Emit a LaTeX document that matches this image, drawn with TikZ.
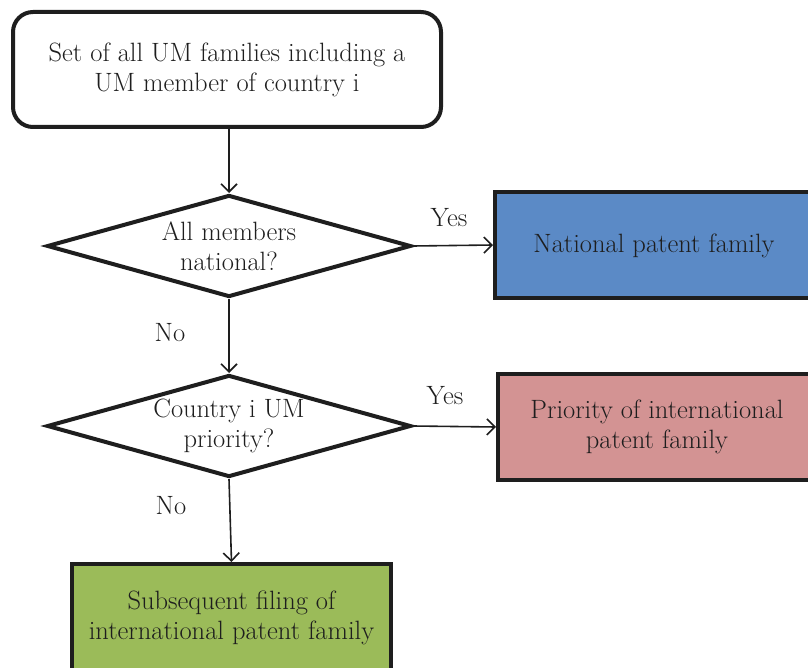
\documentclass[tikz,border=0pt]{standalone}
\usetikzlibrary{shapes.geometric,arrows.meta}
\definecolor{inkgray}{HTML}{1E1E1E}
\definecolor{natblue}{HTML}{5B8AC6}
\definecolor{prioritypink}{HTML}{D39393}
\definecolor{subsgreen}{HTML}{9BBB59}
\tikzset{
  x=1pt, y=-1pt,
  every node/.style={text=inkgray, font=\fontsize{26.5}{30}\selectfont, align=center},
  startbox/.style={draw=inkgray, line width=4pt, rounded corners=20pt, fill=white,
    minimum width=428pt, minimum height=115pt, inner sep=0pt},
  decision/.style={diamond, aspect=3.57, draw=inkgray, line width=4pt, fill=white,
    minimum width=364pt, minimum height=102pt, inner sep=0pt},
  outcome/.style={rectangle, draw=inkgray, line width=4pt, inner sep=0pt},
  flow/.style={draw=inkgray, line width=1.6pt, -{Straight Barb[length=8pt,width=16pt]}},
  lbl/.style={inner sep=0pt}
}
\begin{document}
\begin{tikzpicture}
\useasboundingbox (0,0) rectangle (808,668);

% start of the flow
\node[startbox] (start) at (227,69.5) {Set of all UM families including a\\UM member of country i};

% decisions
\node[decision] (d1) at (229,246) {All members\\national?};
\node[decision] (d2) at (229,426) {Country i UM\\priority?};

% outcomes (partly running off the page)
\node[outcome, fill=natblue, minimum width=340pt, minimum height=106pt] (nat) at (665,245) {};
\node at (654,246) {National patent family};

\node[outcome, fill=prioritypink, minimum width=336pt, minimum height=106pt] (prio) at (666,427) {};
\node at (657,427) {Priority of international\\patent family};

\node[outcome, fill=subsgreen, minimum width=319pt, minimum height=130pt] (subs) at (231.5,629) {};
\node at (231.5,618) {Subsequent filing of\\international patent family};

% connectors
\draw[flow] (start.south -| d1.north) -- (d1.north);
\draw[flow] (d1.east) -- (nat.west);
\draw[flow] (d1.south) -- (d2.north);
\draw[flow] (d2.east) -- (prio.west);
\draw[flow] (d2.south) -- (subs.north);

% branch labels
\node[lbl] (y1) at (449,218) {Yes};
\node[lbl] (n1) at (170,333) {No};
\node[lbl] (y2) at (445,396) {Yes};
\node[lbl] (n2) at (171,506) {No};
\end{tikzpicture}
\end{document}
